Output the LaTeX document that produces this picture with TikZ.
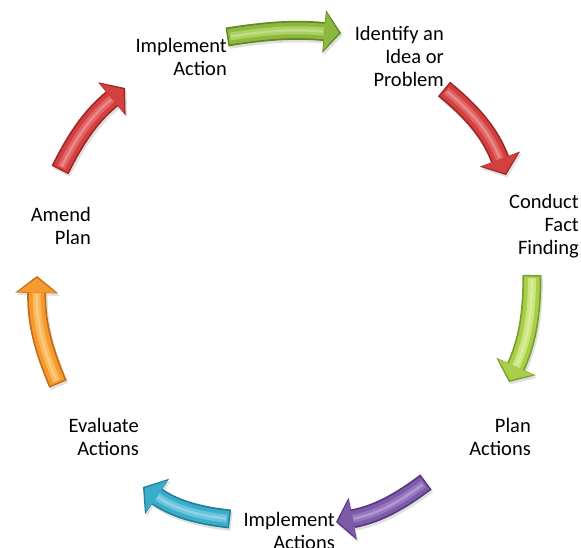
\documentclass[tikz,border=0pt]{standalone}
\usepackage{fontspec}
\setmainfont{Carlito}
\usetikzlibrary{arrows.meta}

% colour sets for the glossy cycle arrows
\definecolor{leafDark}{HTML}{5E8A1E}
\definecolor{leafMid}{HTML}{8DB83F}
\definecolor{leafLight}{HTML}{C6E47F}
\definecolor{limeDark}{HTML}{77A02A}
\definecolor{limeMid}{HTML}{A9CF4A}
\definecolor{limeLight}{HTML}{E9F8A8}
\definecolor{rubyDark}{HTML}{9E2828}
\definecolor{rubyMid}{HTML}{D44040}
\definecolor{rubyLight}{HTML}{EE8080}
\definecolor{plumDark}{HTML}{55397E}
\definecolor{plumMid}{HTML}{7E5BA8}
\definecolor{plumLight}{HTML}{AA8DD2}
\definecolor{tealDark}{HTML}{22809A}
\definecolor{tealMid}{HTML}{3AADCA}
\definecolor{tealLight}{HTML}{90D9EB}
\definecolor{amberDark}{HTML}{C46D12}
\definecolor{amberMid}{HTML}{F59A2E}
\definecolor{amberLight}{HTML}{FFD07A}

\tikzset{
  label text/.style={inner sep=0pt, align=right, anchor=east,
    font=\fontsize{20.5pt}{23pt}\selectfont},
  arrow shadow/.style={line width=19pt, draw=black, opacity=0.12,
    transform canvas={shift={(1.5pt,-2.5pt)}},
    -{Triangle[width=43pt,length=17pt,line width=0pt]}},
  arrow rim/.style={line width=19pt,
    -{Triangle[width=43pt,length=17pt,line width=0pt]}},
  arrow body/.style={line width=15.5pt, shorten <=1.5pt, shorten >=2pt,
    -{Triangle[width=38pt,length=14.5pt,line width=0pt]}},
  arrow gloss/.style={line width=8pt, shorten <=3pt, shorten >=17pt},
  arrow shine/.style={line width=2.5pt, draw=white, opacity=0.25,
    shorten <=4pt, shorten >=18pt}
}

% a curved, bevelled block arrow from #1 to #2, bent by #3 degrees
\newcommand\cyclearrow[4]{%
  \draw[arrow shadow] (#1) to[bend left=#3] (#2);
  \draw[arrow rim, draw=#4Dark] (#1) to[bend left=#3] (#2);
  \draw[arrow body, draw=#4Mid] (#1) to[bend left=#3] (#2);
  \draw[arrow gloss, draw=#4Light!55!#4Mid] (#1) to[bend left=#3] (#2);
  \draw[arrow shine] (#1) to[bend left=#3] (#2);
}

\begin{document}
\begin{tikzpicture}[x=1pt,y=1pt]
  \useasboundingbox (0,0) rectangle (581,-548);

  % stage labels
  \node[label text] (idea)   at (444,-56)  {Identify an\\Idea or\\Problem};
  \node[label text] (facts)  at (579,-226) {Conduct\\Fact\\Finding};
  \node[label text] (plan)   at (531,-437) {Plan\\Actions};
  \node[label text] (doall)  at (335,-531) {Implement\\Actions};
  \node[label text] (eval)   at (139,-437) {Evaluate\\Actions};
  \node[label text] (amend)  at (91,-226)  {Amend\\Plan};
  \node[label text] (doone)  at (227,-57)  {Implement\\Action};

  % arrow end points
  \coordinate (a1s) at (227,-37);  \coordinate (a1e) at (341,-33);
  \coordinate (a2s) at (444,-89);  \coordinate (a2e) at (506,-175);
  \coordinate (a3s) at (532,-275); \coordinate (a3e) at (509,-382);
  \coordinate (a4s) at (426,-482); \coordinate (a4e) at (336,-522);
  \coordinate (a5s) at (230,-519); \coordinate (a5e) at (143,-487);
  \coordinate (a6s) at (58,-384);  \coordinate (a6e) at (37,-276);
  \coordinate (a7s) at (60,-170);  \coordinate (a7e) at (125,-88);

  % the cycle
  \cyclearrow{a1s}{a1e}{7}{leaf}
  \cyclearrow{a2s}{a2e}{15}{ruby}
  \cyclearrow{a3s}{a3e}{12}{lime}
  \cyclearrow{a4s}{a4e}{13}{plum}
  \cyclearrow{a5s}{a5e}{14}{teal}
  \cyclearrow{a6s}{a6e}{12}{amber}
  \cyclearrow{a7s}{a7e}{12}{ruby}
\end{tikzpicture}
\end{document}
